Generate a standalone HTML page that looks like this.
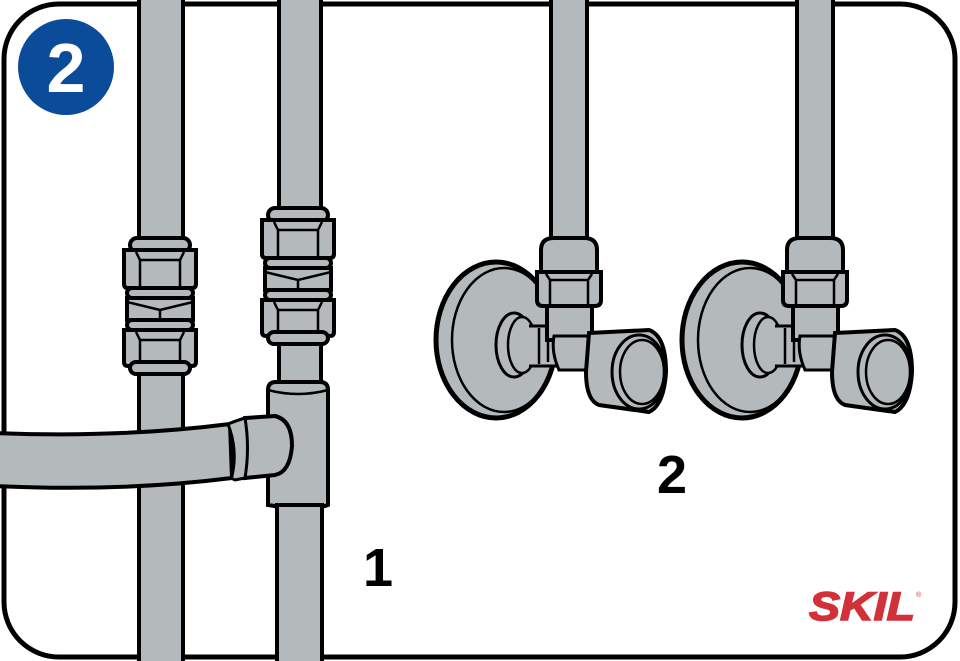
<!DOCTYPE html>
<html><head><meta charset="utf-8"><style>html,body{margin:0;padding:0;background:#fff}svg{display:block}</style></head>
<body>
<svg width="960" height="661" viewBox="0 0 960 661" xmlns="http://www.w3.org/2000/svg">
<defs>
<g id="fit">
 <rect x="-30" y="0" width="60" height="14" rx="7" fill="#b4b9bb" stroke="#000" stroke-width="4"/>
 <path d="M-36 12 H36 V46 Q36 50 32 50 H-32 Q-36 50 -36 46 Z" fill="#b4b9bb" stroke="#000" stroke-width="4"/>
 <path d="M-24 14 L-20 22 H20 L24 14 M-20 22 V48 M20 22 V48" fill="none" stroke="#000" stroke-width="2.5"/>
 <rect x="-33" y="50" width="66" height="10" rx="5" fill="#b4b9bb" stroke="#000" stroke-width="4"/>
 <rect x="-33" y="60" width="66" height="22" fill="#b4b9bb" stroke="#000" stroke-width="4"/>
 <path d="M-33 64 L0 72 L33 64 M0 72 V82" fill="none" stroke="#000" stroke-width="2.5"/>
 <rect x="-33" y="82" width="66" height="10" rx="5" fill="#b4b9bb" stroke="#000" stroke-width="4"/>
 <path d="M-36 92 H36 V124 Q36 128 32 128 H-32 Q-36 128 -36 124 Z" fill="#b4b9bb" stroke="#000" stroke-width="4"/>
 <path d="M-24 94 L-20 102 H20 L24 94 M-20 102 V128 M20 102 V128" fill="none" stroke="#000" stroke-width="2.5"/>
 <rect x="-30" y="124" width="60" height="12" rx="6" fill="#b4b9bb" stroke="#000" stroke-width="4"/>
</g>
<g id="valve">
 <rect x="797" y="-5" width="36" height="255" fill="#b4b9bb" stroke="#000" stroke-width="4"/>
 <ellipse cx="742" cy="340" rx="60" ry="78" fill="#b4b9bb" stroke="#000" stroke-width="5"/>
 <ellipse cx="750" cy="340" rx="52" ry="72" fill="none" stroke="#000" stroke-width="2.5"/>
 <ellipse cx="760" cy="345" rx="18" ry="32" fill="#b4b9bb" stroke="#000" stroke-width="3"/>
 <ellipse cx="768" cy="345" rx="14" ry="28" fill="#b4b9bb" stroke="#000" stroke-width="2.5"/>
 <path d="M775 326 H805 V366 H775" fill="#b4b9bb" stroke="#000" stroke-width="3"/>
 <path d="M785 328 V364 M794 330 V362" fill="none" stroke="#000" stroke-width="2.5"/>
 <path d="M793 300 H838 V340 H793 Z" fill="#b4b9bb" stroke="#000" stroke-width="4"/>
 <path d="M800 336 H845 Q852 352 845 370 H805 Q797 352 800 336 Z" fill="#b4b9bb" stroke="#000" stroke-width="3"/>
 <path d="M835 333 L895 330 Q912 336 912 372 Q910 405 895 412 L845 405 Q832 400 832 372 Z" fill="#b4b9bb" stroke="#000" stroke-width="4"/>
 <ellipse cx="885" cy="372" rx="27" ry="37" fill="#b4b9bb" stroke="#000" stroke-width="3"/>
 <ellipse cx="888" cy="372" rx="22" ry="32" fill="none" stroke="#000" stroke-width="2.5"/>
 <path d="M787 250 Q787 238 800 238 H830 Q843 238 843 250 V272 H787 Z" fill="#b4b9bb" stroke="#000" stroke-width="4"/>
 <path d="M783 272 H847 V300 Q847 306 841 306 H789 Q783 306 783 300 Z" fill="#b4b9bb" stroke="#000" stroke-width="4"/>
 <path d="M792 274 L796 280 H834 L838 274 M796 280 V304 M834 280 V304" fill="none" stroke="#000" stroke-width="2.5"/>
</g>
</defs>
<rect x="4" y="4" width="951" height="653" rx="55" fill="#fff" stroke="#000" stroke-width="5"/>
<rect x="139" y="-5" width="44" height="680" fill="#b4b9bb" stroke="#000" stroke-width="4"/>
<use href="#fit" transform="translate(160,238)"/>
<rect x="279" y="-5" width="42" height="400" fill="#b4b9bb" stroke="#000" stroke-width="4"/>
<use href="#fit" transform="translate(298,208)"/>
<path d="M268 390 Q268 382 276 382 H320 Q328 382 328 390 V505 Q310 512 268 505 Z" fill="#b4b9bb" stroke="#000" stroke-width="4"/>
<path d="M268 390 Q298 398 328 390" fill="none" stroke="#000" stroke-width="2.5"/>
<rect x="277" y="505" width="45" height="170" fill="#b4b9bb" stroke="#000" stroke-width="4"/>
<path d="M-5 433 Q120 438 230 424 L232 478 Q120 492 -5 486 Z" fill="#b4b9bb" stroke="#000" stroke-width="4"/>
<path d="M245 418 L275 416 Q292 420 292 446 Q290 472 275 475 L245 478 Z" fill="#b4b9bb" stroke="#000" stroke-width="4"/>
<path d="M228 424 Q238 420 245 418 Q250 448 245 478 L235 480 Q230 478 232 476 Q238 450 228 424 Z" fill="#b4b9bb" stroke="#000" stroke-width="3"/>
<use href="#valve" transform="translate(-246,0)"/>
<use href="#valve"/>
<circle cx="66" cy="67" r="48" fill="#0a4c9a"/>
<text x="66" y="92" text-anchor="middle" font-family="Liberation Sans, sans-serif" font-weight="bold" font-size="70" fill="#fff">2</text>
<text x="378" y="586" text-anchor="middle" font-family="Liberation Sans, sans-serif" font-weight="bold" font-size="54">1</text>
<text x="672" y="493" text-anchor="middle" font-family="Liberation Sans, sans-serif" font-weight="bold" font-size="54">2</text>
<text x="862" y="620" text-anchor="middle" font-family="Liberation Sans, sans-serif" font-weight="bold" font-style="italic" font-size="40" fill="#d2313a" stroke="#d2313a" stroke-width="1.5" textLength="106" lengthAdjust="spacingAndGlyphs">SKIL</text>
<text x="916" y="597" font-family="Liberation Sans, sans-serif" font-size="7" fill="#d2313a">®</text>
</svg>
</body></html>
